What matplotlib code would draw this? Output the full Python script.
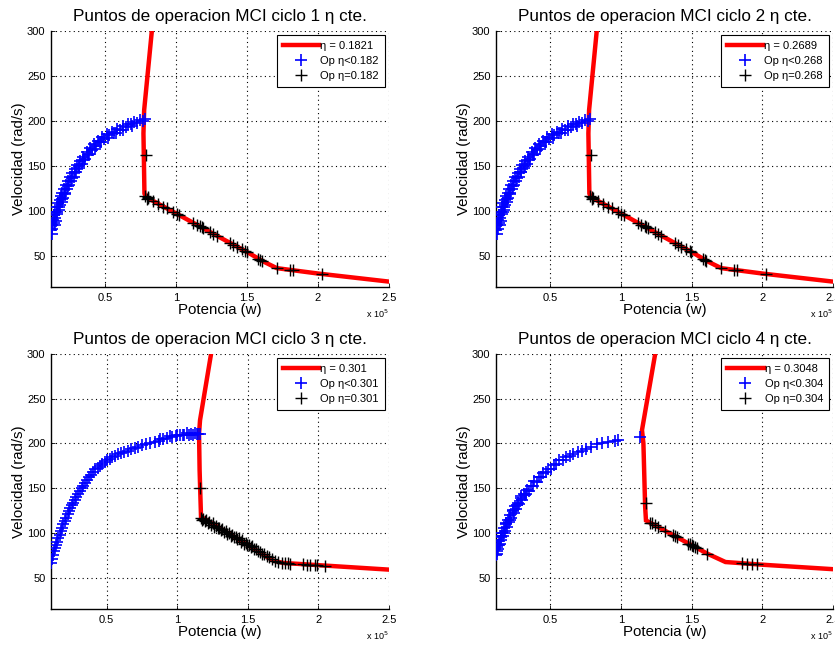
import numpy as np
import matplotlib
matplotlib.use("Agg")
import matplotlib.pyplot as plt
from matplotlib.ticker import FuncFormatter

plt.rcParams['font.family'] = ['Liberation Sans', 'DejaVu Sans']

# Potencia in units of 1e5 W, velocidad in rad/s
# ---- Ciclos 1 y 2 (same operating points) ----
linea12_pot = [0.830, 0.776, 0.771, 0.778, 0.790, 1.000, 1.300, 1.500, 1.620, 1.710, 2.000, 2.500]
linea12_vel = [300, 212, 186, 119, 115, 97, 71, 54, 43, 36, 30, 21]

azul12_pot = [0.120, 0.125, 0.130, 0.132, 0.138, 0.142, 0.148, 0.150, 0.155, 0.160,
              0.165, 0.170, 0.175, 0.180, 0.185, 0.190, 0.195, 0.200, 0.205, 0.212,
              0.220, 0.225, 0.232, 0.240, 0.248, 0.255, 0.262, 0.270, 0.280, 0.288,
              0.296, 0.305, 0.315, 0.325, 0.335, 0.345, 0.358, 0.370, 0.382, 0.395,
              0.408, 0.420, 0.435, 0.450, 0.465, 0.480, 0.495, 0.512, 0.530, 0.548,
              0.565, 0.585, 0.605, 0.625, 0.645, 0.665, 0.685, 0.705, 0.725, 0.745,
              0.765, 0.785, 0.128, 0.145, 0.163, 0.178, 0.198, 0.218, 0.238, 0.265,
              0.292, 0.320, 0.352, 0.388, 0.428, 0.472, 0.520, 0.575, 0.630, 0.690]
azul12_vel = [78, 84, 80, 90, 86, 95, 92, 99, 88, 104,
              98, 108, 101, 112, 106, 116, 110, 120, 114, 124,
              119, 128, 124, 133, 128, 138, 133, 142, 138, 146,
              143, 151, 147, 155, 152, 160, 157, 165, 162, 170,
              167, 174, 172, 178, 176, 182, 180, 185, 184, 188,
              187, 191, 190, 194, 193, 197, 196, 199, 198, 201,
              200, 202, 74, 84, 96, 104, 113, 120, 127, 136,
              143, 150, 156, 163, 169, 176, 181, 186, 190, 194]

negro12_pot = [0.790, 0.782, 0.795, 0.805, 0.800, 0.840, 0.876, 0.911, 0.935, 0.981,
               1.005, 1.024, 1.122, 1.146, 1.169, 1.181, 1.193, 1.240, 1.263, 1.287,
               1.381, 1.404, 1.428, 1.463, 1.486, 1.498, 1.580, 1.592, 1.604, 1.709,
               1.803, 1.822, 2.026]
negro12_vel = [162, 116, 113, 114, 115, 111, 107.5, 104.5, 102.5, 98.5,
               96.5, 95, 86.5, 84.5, 82.5, 81.5, 80.5, 76.5, 74.5, 72,
               64, 62, 60, 57, 55, 54, 46.5, 45.5, 44.5, 36,
               34, 33.7, 29.5]

# ---- Ciclo 3 ----
linea3_pot = [1.239, 1.161, 1.154, 1.158, 1.168, 1.400, 1.680, 1.750, 2.000, 2.500]
linea3_vel = [300, 226, 211, 170, 118, 96, 69, 66.5, 64, 59]

azul3_pot = [0.105, 0.112, 0.120, 0.128, 0.135, 0.142, 0.150, 0.158, 0.166, 0.175,
             0.184, 0.193, 0.202, 0.212, 0.222, 0.232, 0.242, 0.252, 0.262, 0.273,
             0.285, 0.297, 0.310, 0.322, 0.335, 0.348, 0.362, 0.376, 0.390, 0.405,
             0.420, 0.436, 0.452, 0.468, 0.485, 0.502, 0.520, 0.540, 0.560, 0.580,
             0.600, 0.625, 0.650, 0.675, 0.700, 0.725, 0.750, 0.780, 0.810, 0.840,
             0.870, 0.900, 0.930, 0.960, 0.990, 1.020, 1.050, 1.080, 1.110, 1.140,
             1.160, 0.880, 0.950, 1.000, 1.040, 1.070, 1.100, 1.125, 1.150]
azul3_vel = [66, 71, 75, 80, 83, 87, 90, 94, 98, 102,
             106, 110, 113, 117, 121, 125, 128, 131, 134, 137,
             140, 144, 147, 150, 153, 156, 159, 162, 165, 168,
             171, 173, 175, 177, 179, 181, 183, 185, 186, 188,
             189, 191, 192, 194, 195, 196, 198, 199, 201, 202,
             203, 205, 206, 207, 208, 209, 209, 210, 210, 211,
             211, 205, 208, 209, 210, 212, 211, 212, 211]

negro3_pot = [1.162, 1.165, 1.175, 1.185, 1.195, 1.205, 1.215, 1.228, 1.240, 1.250,
              1.262, 1.275, 1.285, 1.297, 1.310, 1.320, 1.332, 1.345, 1.355, 1.368,
              1.380, 1.390, 1.402, 1.415, 1.425, 1.438, 1.450, 1.460, 1.472, 1.485,
              1.495, 1.508, 1.520, 1.532, 1.545, 1.558, 1.570, 1.585, 1.600, 1.615,
              1.632, 1.650, 1.668, 1.690, 1.716, 1.740, 1.764, 1.787, 1.799, 1.893,
              1.917, 1.940, 1.976, 1.987, 2.046]
negro3_vel = [150, 117, 114, 116, 113, 114, 111, 112, 109, 111,
              107, 108, 105, 106, 103, 104, 101, 102, 99, 100,
              97, 98, 95, 96, 93, 94, 90, 92, 88, 89,
              86, 87, 84, 85, 82, 82, 80, 79, 77, 76,
              74, 73, 71, 69, 67, 66.5, 66, 66, 65.5, 65,
              64.5, 64.5, 64, 64, 63.5]

# ---- Ciclo 4 ----
linea4_pot = [1.243, 1.150, 1.160, 1.172, 1.178, 1.610, 1.740, 2.000, 2.500]
linea4_vel = [300, 215, 200, 130, 114, 77, 67.5, 64.5, 59.5]

azul4_pot = [0.118, 0.122, 0.126, 0.130, 0.135, 0.140, 0.145, 0.150, 0.156, 0.162,
             0.168, 0.175, 0.182, 0.188, 0.195, 0.202, 0.210, 0.218, 0.226, 0.235,
             0.244, 0.253, 0.262, 0.272, 0.282, 0.292, 0.302, 0.313, 0.325, 0.337,
             0.350, 0.362, 0.376, 0.390, 0.405, 0.420, 0.436, 0.452, 0.470, 0.488,
             0.506, 0.525, 0.545, 0.565, 0.590, 0.615, 0.640, 0.665, 0.695, 0.725,
             0.755, 0.790, 0.830, 0.866, 0.912, 0.960, 0.983, 1.136,
             0.124, 0.138, 0.152, 0.172, 0.192, 0.214, 0.240, 0.268, 0.298, 0.332]
azul4_vel = [75, 80, 77, 86, 82, 91, 88, 95, 92, 100,
             97, 105, 102, 110, 107, 115, 112, 120, 117, 125,
             122, 130, 127, 134, 132, 139, 137, 143, 142, 148,
             147, 153, 152, 158, 157, 163, 162, 167, 168, 172,
             172, 176, 177, 181, 182, 185, 186, 188, 190, 192,
             194, 196, 199, 201, 202, 203, 204, 207,
             84, 86, 97, 100, 111, 115, 126, 131, 141, 144]

negro4_pot = [1.179, 1.207, 1.219, 1.243, 1.266, 1.313, 1.372, 1.384, 1.396, 1.478,
              1.490, 1.502, 1.513, 1.525, 1.537, 1.608, 1.856, 1.891, 1.926, 1.962]
negro4_vel = [133.3, 111.5, 111, 108.4, 106.4, 102.4, 97.3, 96.3, 95.3, 88.2,
              87.2, 86.1, 85.2, 84.2, 83.1, 77, 66, 65.7, 65.3, 65]

ciclos = [
    (1, "0.1821", "0.182", linea12_pot, linea12_vel, azul12_pot, azul12_vel, negro12_pot, negro12_vel, 0.120),
    (2, "0.2689", "0.268", linea12_pot, linea12_vel, azul12_pot, azul12_vel, negro12_pot, negro12_vel, 0.118),
    (3, "0.301", "0.301", linea3_pot, linea3_vel, azul3_pot, azul3_vel, negro3_pot, negro3_vel, 0.105),
    (4, "0.3048", "0.304", linea4_pot, linea4_vel, azul4_pot, azul4_vel, negro4_pot, negro4_vel, 0.118),
]

W, H = 835, 648
fig = plt.figure(figsize=(W / 100, H / 100), dpi=100)

# axes boxes in pixels: left, right, top, bottom
cajas = [(51, 389, 31, 287), (496, 833, 31, 287),
         (51, 389, 354, 609), (496, 833, 354, 609)]

escala = 1e5
for (n, eta, eta_c, lp, lv, ap, av, npot, nvel, xmin), (l, r, t, b) in zip(ciclos, cajas):
    ax = fig.add_axes([l / W, 1 - b / H, (r - l) / W, (b - t) / H])
    ax.plot(np.array(lp) * escala, lv, color='#ff0000', lw=3.2,
            solid_joinstyle='miter', label=f"η = {eta}", zorder=3)
    ax.plot(np.array(ap) * escala, av, ls='none', marker='+', color='#0000ff',
            ms=8, mew=1.2, label=f"Op η<{eta_c}", zorder=4)
    ax.plot(np.array(npot) * escala, nvel, ls='none', marker='+', color='black',
            ms=8, mew=1.0, label=f"Op η={eta_c}", zorder=5)

    ax.set_xlim(xmin * escala, 2.5 * escala)
    ax.set_ylim(15, 300)
    ax.set_xticks(np.array([0.5, 1.0, 1.5, 2.0, 2.5]) * escala)
    ax.set_yticks([50, 100, 150, 200, 250, 300])
    ax.xaxis.set_major_formatter(FuncFormatter(lambda v, p: f"{v / escala:g}"))
    ax.tick_params(direction='in', length=3, width=0.6, labelsize=8, pad=4)
    ax.grid(True, color='black', ls=(0, (1, 3)), lw=0.8)
    ax.spines['top'].set_visible(False)
    ax.spines['right'].set_visible(False)
    for s in ('left', 'bottom'):
        ax.spines[s].set_linewidth(1.0)

    ax.set_title(f"Puntos de operacion MCI ciclo {n} η cte.", fontsize=12.3, pad=7)
    ax.set_xlabel("Potencia (w)", fontsize=10.8, labelpad=0)
    ax.set_ylabel("Velocidad (rad/s)", fontsize=10.8, labelpad=1)
    ax.text(1.0, -0.08, r"x 10$^5$", transform=ax.transAxes, ha='right', va='top',
            fontsize=6.5)

    leg = ax.legend(loc='upper right', fontsize=8, frameon=True, fancybox=False,
                    edgecolor='black', framealpha=1, handlelength=3.3,
                    handletextpad=0.1, labelspacing=0.45, borderpad=0.5,
                    borderaxespad=0.4)
    leg.get_frame().set_linewidth(0.8)
    leg.set_zorder(10)

fig.savefig("out.png", dpi=100)
